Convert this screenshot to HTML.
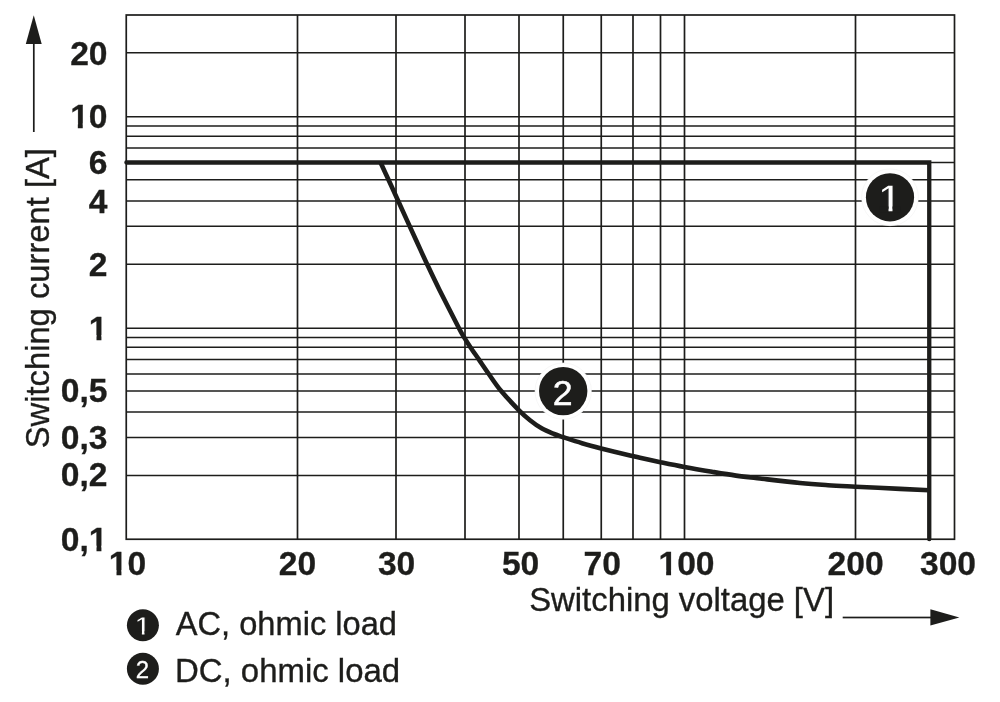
<!DOCTYPE html>
<html lang="en"><head><meta charset="utf-8"><title>Switching current vs. switching voltage</title>
<style>html,body{margin:0;padding:0;background:#fff}body{width:1000px;height:702px;overflow:hidden}svg{display:block}</style>
</head><body>
<svg width="1000" height="702" viewBox="0 0 1000 702">
<rect width="1000" height="702" fill="#fff"/>
<g stroke="#1d1d1b" stroke-width="1.7" fill="none">
<rect x="126.25" y="15" width="828.25" height="524.25"/>
<line x1="126.25" y1="52.75" x2="954.5" y2="52.75"/>
<line x1="126.25" y1="116.75" x2="954.5" y2="116.75"/>
<line x1="126.25" y1="126" x2="954.5" y2="126"/>
<line x1="126.25" y1="136.25" x2="954.5" y2="136.25"/>
<line x1="126.25" y1="148" x2="954.5" y2="148"/>
<line x1="126.25" y1="162.5" x2="954.5" y2="162.5"/>
<line x1="126.25" y1="179.75" x2="954.5" y2="179.75"/>
<line x1="126.25" y1="201" x2="954.5" y2="201"/>
<line x1="126.25" y1="226.25" x2="954.5" y2="226.25"/>
<line x1="126.25" y1="264.25" x2="954.5" y2="264.25"/>
<line x1="126.25" y1="328.25" x2="954.5" y2="328.25"/>
<line x1="126.25" y1="337.5" x2="954.5" y2="337.5"/>
<line x1="126.25" y1="347.25" x2="954.5" y2="347.25"/>
<line x1="126.25" y1="359.5" x2="954.5" y2="359.5"/>
<line x1="126.25" y1="374" x2="954.5" y2="374"/>
<line x1="126.25" y1="391" x2="954.5" y2="391"/>
<line x1="126.25" y1="412" x2="954.5" y2="412"/>
<line x1="126.25" y1="437.5" x2="954.5" y2="437.5"/>
<line x1="126.25" y1="475.5" x2="954.5" y2="475.5"/>
<line x1="297.5" y1="15" x2="297.5" y2="539.25"/>
<line x1="396" y1="15" x2="396" y2="539.25"/>
<line x1="465" y1="15" x2="465" y2="539.25"/>
<line x1="519" y1="15" x2="519" y2="539.25"/>
<line x1="563.25" y1="15" x2="563.25" y2="539.25"/>
<line x1="601.25" y1="15" x2="601.25" y2="539.25"/>
<line x1="633" y1="15" x2="633" y2="539.25"/>
<line x1="660.5" y1="15" x2="660.5" y2="539.25"/>
<line x1="684.5" y1="15" x2="684.5" y2="539.25"/>
<line x1="855.5" y1="15" x2="855.5" y2="539.25"/>
</g>
<circle cx="890" cy="197.3" r="28.4" fill="#fff" stroke="#f1f1f1" stroke-width="0.6"/>
<circle cx="563.2" cy="391.1" r="28.2" fill="#fff" stroke="#f1f1f1" stroke-width="0.6"/>
<g stroke="#1d1d1b" stroke-width="4.3" fill="none">
<path d="M126.4 162.5 H929.25 V539.2" stroke-linecap="round" stroke-linejoin="miter"/>
<path d="M380.30 162.00 C381.67 164.96 385.53 173.29 388.50 179.76 C391.47 186.23 393.52 190.76 398.10 200.80 C402.68 210.84 411.18 229.47 416.00 240.00 C420.82 250.53 423.08 255.67 427.00 264.00 C430.92 272.33 434.17 279.29 439.50 290.00 C444.83 300.71 454.87 320.32 459.00 328.25 C463.13 336.18 462.40 334.44 464.30 337.60 C466.20 340.76 467.98 343.57 470.40 347.20 C472.82 350.83 475.73 354.93 478.80 359.40 C481.87 363.87 485.10 368.77 488.80 374.00 C492.50 379.23 495.97 384.75 501.00 390.80 C506.03 396.85 514.17 405.40 519.00 410.30 C523.83 415.20 526.17 417.15 530.00 420.20 C533.83 423.25 538.00 426.30 542.00 428.60 C546.00 430.90 550.47 432.57 554.00 434.00 C557.53 435.43 558.53 435.67 563.20 437.20 C567.87 438.73 575.67 441.33 582.00 443.20 C588.33 445.07 593.20 446.37 601.20 448.40 C609.20 450.43 623.53 453.83 630.00 455.40 C636.47 456.97 634.93 456.67 640.00 457.80 C645.07 458.93 653.00 460.67 660.40 462.20 C667.80 463.73 675.80 465.40 684.40 467.00 C693.00 468.60 703.40 470.37 712.00 471.80 C720.60 473.23 728.00 474.48 736.00 475.60 C744.00 476.72 749.33 477.27 760.00 478.50 C770.67 479.73 788.67 481.88 800.00 483.00 C811.33 484.12 818.73 484.58 828.00 485.20 C837.27 485.82 843.60 486.08 855.60 486.70 C867.60 487.32 887.73 488.30 900.00 488.90 C912.27 489.50 924.38 490.07 929.25 490.30" stroke-width="4.6"/>
</g>
<circle cx="890" cy="197.3" r="24.1" fill="#1d1d1b"/>
<circle cx="563.2" cy="391.1" r="24.2" fill="#1d1d1b"/>
<g font-family="'Liberation Sans', sans-serif" fill="#1d1d1b">
<text x="878.67" y="211.7" font-size="39.2" font-weight="700" fill="#fff" stroke="#1d1d1b" stroke-width="1.4">1</text>
<rect x="879.94" y="206.50" width="8.58" height="6.40" fill="#1d1d1b" stroke="none"/>
<rect x="892.50" y="206.50" width="8.08" height="6.40" fill="#1d1d1b" stroke="none"/>
<text x="562.8" y="404.5" font-size="35.7" fill="#fff" stroke="#fff" stroke-width="0.5" text-anchor="middle">2</text>
<g font-weight="700" font-size="32.3" stroke="#1d1d1b" stroke-width="0.3">
<text transform="translate(107.50 64.95) scale(1.04 1)" text-anchor="end">20</text>
<text transform="translate(107.50 128.30) scale(1.04 1)" text-anchor="end">10</text>
<rect x="70.59" y="123.40" width="7.23" height="6.50" fill="#fff" stroke="none"/>
<rect x="82.74" y="123.40" width="6.81" height="6.50" fill="#fff" stroke="none"/>
<text transform="translate(107.50 174.05) scale(1.04 1)" text-anchor="end">6</text>
<text transform="translate(107.50 212.55) scale(1.04 1)" text-anchor="end">4</text>
<text transform="translate(107.50 275.80) scale(1.04 1)" text-anchor="end">2</text>
<text transform="translate(107.50 340.05) scale(1.04 1)" text-anchor="end">1</text>
<rect x="89.27" y="335.15" width="7.23" height="6.50" fill="#fff" stroke="none"/>
<rect x="101.42" y="335.15" width="6.81" height="6.50" fill="#fff" stroke="none"/>
<text transform="translate(107.50 402.35) scale(1.04 1)" text-anchor="end">0,5</text>
<text transform="translate(107.50 449.05) scale(1.04 1)" text-anchor="end">0,3</text>
<text transform="translate(107.50 485.95) scale(1.04 1)" text-anchor="end">0,2</text>
<text transform="translate(107.50 550.55) scale(1.04 1)" text-anchor="end">0,1</text>
<rect x="89.27" y="545.65" width="7.23" height="6.50" fill="#fff" stroke="none"/>
<rect x="101.42" y="545.65" width="6.81" height="6.50" fill="#fff" stroke="none"/>
<text transform="translate(127.50 575.20) scale(1.04 1)" text-anchor="middle">10</text>
<rect x="109.27" y="570.30" width="7.23" height="6.50" fill="#fff" stroke="none"/>
<rect x="121.42" y="570.30" width="6.81" height="6.50" fill="#fff" stroke="none"/>
<text transform="translate(297.50 575.20) scale(1.04 1)" text-anchor="middle">20</text>
<text transform="translate(396.60 575.20) scale(1.04 1)" text-anchor="middle">30</text>
<text transform="translate(520.60 575.20) scale(1.04 1)" text-anchor="middle">50</text>
<text transform="translate(602.20 575.20) scale(1.04 1)" text-anchor="middle">70</text>
<text transform="translate(686.50 575.20) scale(1.04 1)" text-anchor="middle">100</text>
<rect x="658.93" y="570.30" width="7.23" height="6.50" fill="#fff" stroke="none"/>
<rect x="671.08" y="570.30" width="6.81" height="6.50" fill="#fff" stroke="none"/>
<text transform="translate(855.60 575.20) scale(1.04 1)" text-anchor="middle">200</text>
<text transform="translate(948.00 575.20) scale(1.04 1)" text-anchor="middle">300</text>
</g>
<g font-size="32.3" stroke="#1d1d1b" stroke-width="0.35">
<text transform="translate(529.2 610.8) scale(1.017 1)">Switching voltage [V]</text>
<text transform="translate(49.4 448.3) rotate(-90) scale(1.014 1)">Switching current [A]</text>
<text transform="translate(175.8 635) scale(1.01 1)">AC, ohmic load</text>
<text transform="translate(175 682.2) scale(1.02 1)">DC, ohmic load</text>
</g>
</g>
<g fill="#1d1d1b" stroke="none">
<rect x="32.95" y="40" width="1.7" height="92"/>
<path d="M33.75 15.2 L41.7 43.9 H25.8 Z"/>
<rect x="842.7" y="616.65" width="92" height="1.7"/>
<path d="M959.4 617.5 L930.4 625.6 V609.3 Z"/>
</g>
<circle cx="142.9" cy="625.2" r="16" fill="#1d1d1b"/>
<circle cx="142.9" cy="668.7" r="16" fill="#1d1d1b"/>
<g font-family="'Liberation Sans', sans-serif" fill="#fff">
<text x="135.22" y="635" font-size="26.4" font-weight="700" stroke="#1d1d1b" stroke-width="1.0">1</text>
<rect x="135.88" y="631.31" width="6.00" height="4.69" fill="#1d1d1b" stroke="none"/>
<rect x="144.50" y="631.31" width="5.66" height="4.69" fill="#1d1d1b" stroke="none"/>
<text x="142.5" y="677.7" font-size="24" stroke="#fff" stroke-width="0.3" text-anchor="middle">2</text>
</g>
</svg>
</body></html>
